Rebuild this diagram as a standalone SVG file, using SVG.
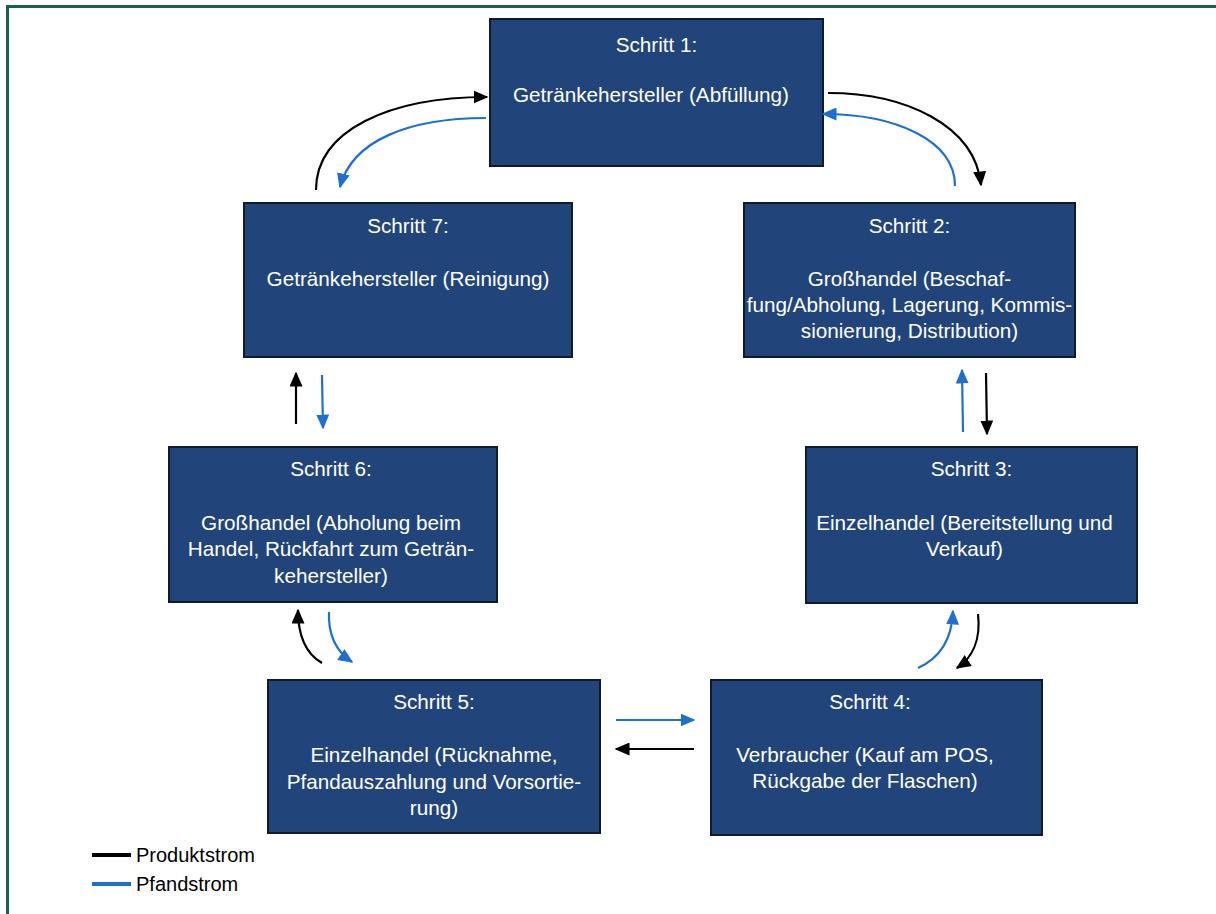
<svg xmlns="http://www.w3.org/2000/svg" width="1216" height="914" viewBox="0 0 1216 914">
  <defs>
    <marker id="ah-black" viewBox="0 0 10 10" refX="9" refY="5" markerWidth="15" markerHeight="13" markerUnits="userSpaceOnUse" orient="auto" preserveAspectRatio="none">
      <path d="M0,0 L10,5 L0,10 z" fill="#000"/>
    </marker>
    <marker id="ah-blue" viewBox="0 0 10 10" refX="9" refY="5" markerWidth="15" markerHeight="13" markerUnits="userSpaceOnUse" orient="auto" preserveAspectRatio="none">
      <path d="M0,0 L10,5 L0,10 z" fill="#1f6fd0"/>
    </marker>
    <style>
      .box { fill: #21457b; stroke: #111a2a; stroke-width: 2; }
      .lbl { font-family: "Liberation Sans", Arial, sans-serif; font-size: 20.7px; fill: #ffffff; text-anchor: middle; }
      .prod { fill: none; stroke: #000; stroke-width: 2.2; marker-end: url(#ah-black); }
      .pfand { fill: none; stroke: #1f6fd0; stroke-width: 2.2; marker-end: url(#ah-blue); }
      .legend { font-family: "Liberation Sans", Arial, sans-serif; font-size: 20px; fill: #000; }
    </style>
  </defs>
  <rect width="1216" height="914" fill="#ffffff"/>
  <!-- outer frame -->
  <path d="M7.5,914 L7.5,6.5 L1216,6.5" fill="none" stroke="#1e5e4e" stroke-width="3"/>

  <g id="step1">
    <rect class="box" x="490" y="19" width="333" height="147"/>
    <text class="lbl" x="656.5" y="52">Schritt 1:</text>
    <text class="lbl" x="651" y="102">Getränkehersteller (Abfüllung)</text>
  </g>
  <g id="step2">
    <rect class="box" x="744" y="203" width="331" height="154"/>
    <text class="lbl" x="909.5" y="233">Schritt 2:</text>
    <text class="lbl" x="909.5" y="286">Großhandel (Beschaf-</text>
    <text class="lbl" x="909.5" y="312">fung/Abholung, Lagerung, Kommis-</text>
    <text class="lbl" x="909.5" y="338">sionierung, Distribution)</text>
  </g>
  <g id="step3">
    <rect class="box" x="806" y="447" width="331" height="156"/>
    <text class="lbl" x="971.5" y="476">Schritt 3:</text>
    <text class="lbl" x="964.5" y="530">Einzelhandel (Bereitstellung und</text>
    <text class="lbl" x="964.5" y="556">Verkauf)</text>
  </g>
  <g id="step4">
    <rect class="box" x="711" y="680" width="331" height="155"/>
    <text class="lbl" x="870" y="709">Schritt 4:</text>
    <text class="lbl" x="865" y="762">Verbraucher (Kauf am POS,</text>
    <text class="lbl" x="865" y="788">Rückgabe der Flaschen)</text>
  </g>
  <g id="step5">
    <rect class="box" x="268" y="680" width="332" height="153"/>
    <text class="lbl" x="434" y="709">Schritt 5:</text>
    <text class="lbl" x="434" y="762">Einzelhandel (Rücknahme,</text>
    <text class="lbl" x="434" y="789">Pfandauszahlung und Vorsortie-</text>
    <text class="lbl" x="434" y="815">rung)</text>
  </g>
  <g id="step6">
    <rect class="box" x="169" y="447" width="328" height="155"/>
    <text class="lbl" x="331" y="476">Schritt 6:</text>
    <text class="lbl" x="331" y="530">Großhandel (Abholung beim</text>
    <text class="lbl" x="331" y="556">Handel, Rückfahrt zum Geträn-</text>
    <text class="lbl" x="331" y="583">kehersteller)</text>
  </g>
  <g id="step7">
    <rect class="box" x="244" y="203" width="328" height="154"/>
    <text class="lbl" x="408" y="233">Schritt 7:</text>
    <text class="lbl" x="408" y="286">Getränkehersteller (Reinigung)</text>
  </g>

  <g id="connectors">
    <!-- 7 -> 1 and 1 -> 7 -->
    <path class="prod" d="M316,190 C316,130 390,97 487,97"/>
    <path class="pfand" d="M486,118 C410,118 352,140 340,187"/>
    <!-- 1 -> 2 and 2 -> 1 -->
    <path class="prod" d="M828,93 C905,93 975,125 981,185"/>
    <path class="pfand" d="M955,186 C955,140 895,114 823,114"/>
    <!-- 6 <-> 7 -->
    <path class="prod" d="M296,424 L296,373"/>
    <path class="pfand" d="M322,375 L323,428"/>
    <!-- 2 <-> 3 -->
    <path class="pfand" d="M963,432 L962,370"/>
    <path class="prod" d="M986,373 L987,434"/>
    <!-- 5 <-> 6 -->
    <path class="prod" d="M322,663 C308,655 298,640 298,610"/>
    <path class="pfand" d="M329,612 C328,635 337,652 352,662"/>
    <!-- 4 <-> 3 -->
    <path class="pfand" d="M918,668 C940,658 952,640 953,611"/>
    <path class="prod" d="M978,614 C981,640 972,658 957,668"/>
    <!-- 5 <-> 4 -->
    <path class="pfand" d="M616,720 L694,720"/>
    <path class="prod" d="M694,749 L616,749"/>
  </g>

  <g id="legend">
    <line x1="92" y1="855" x2="131" y2="855" stroke="#000" stroke-width="4"/>
    <text class="legend" x="136" y="862">Produktstrom</text>
    <line x1="92" y1="884" x2="131" y2="884" stroke="#1f6fd0" stroke-width="4"/>
    <text class="legend" x="136" y="891">Pfandstrom</text>
  </g>
</svg>
